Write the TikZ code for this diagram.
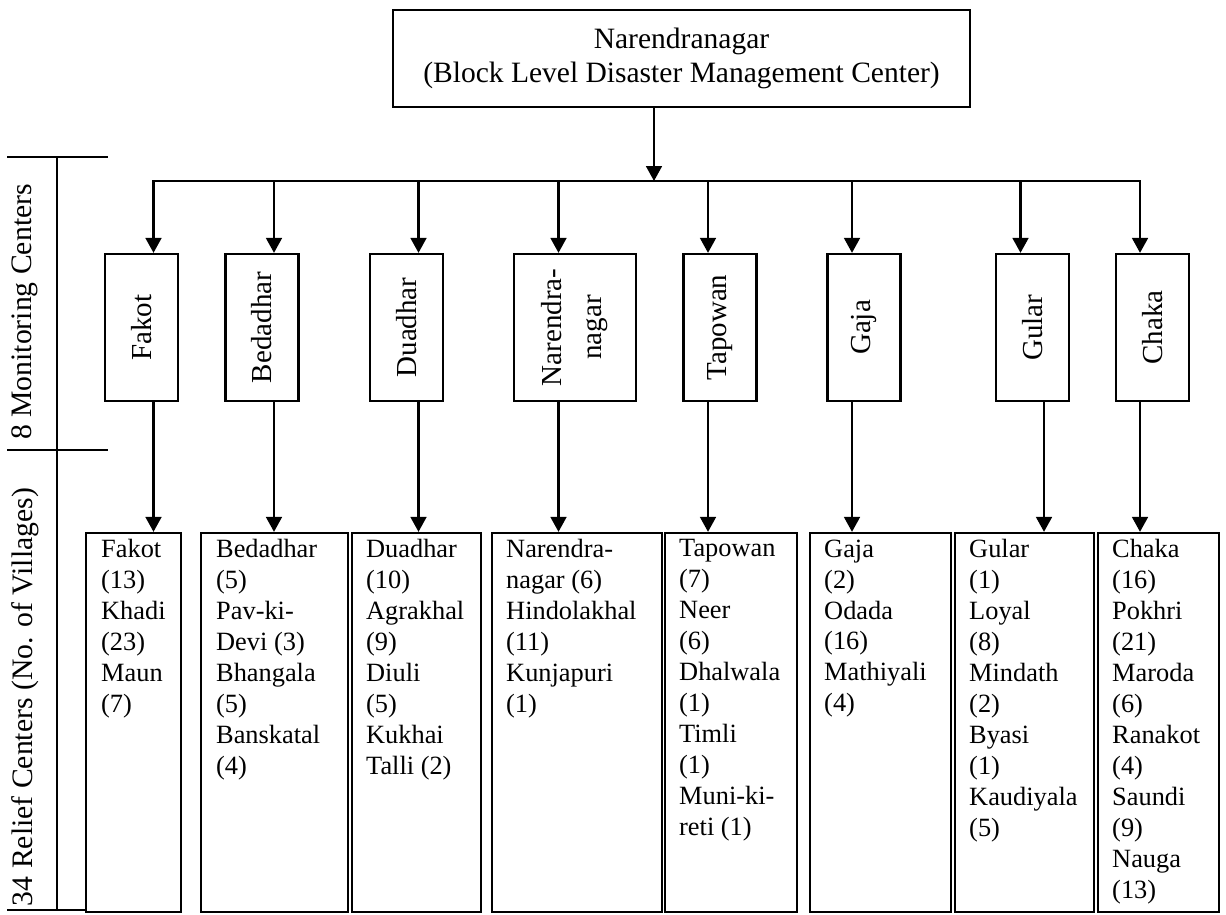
\documentclass[tikz,border=0pt]{standalone}
\usepackage{fontspec}
\setmainfont{Liberation Serif}
\usepackage{tikz}
\usetikzlibrary{arrows.meta,positioning,calc}

\begin{document}
\begin{tikzpicture}[
    block/.style={rectangle, draw, line width=1.3pt, minimum width=11.54cm, minimum height=1.94cm, align=center, font=\fontsize{16.8}{19.3}\selectfont},
    monitor/.style={rectangle, draw, line width=1.3pt, minimum width=1.46cm, minimum height=2.94cm},
    montext/.style={rotate=90, align=center, font=\fontsize{16.5}{22.8}\selectfont},
    village/.style={rectangle, draw, line width=1.3pt, minimum height=7.58cm},
    vtext/.style={anchor=north west, inner sep=0pt, align=left, font=\fontsize{15}{17.6}\selectfont},
    side/.style={rotate=90, font=\fontsize{16.9}{20}\selectfont},
    arrow/.style={-{Triangle[length=8.5pt, width=9pt]}, line width=1.3pt},
    line/.style={line width=1.3pt, line cap=rect}
]
\fill[white] (0,0) rectangle (24.52,18.28);
\useasboundingbox (0,0) rectangle (24.52,18.28);

% Block level center
\node[block] (blc) at (13.63,17.11) {Narendranagar\\(Block Level Disaster Management Center)};

% Distribution line
\coordinate (bus) at (13.08,14.66);
\coordinate (bfak) at (3.07,14.66);
\coordinate (bbed) at (5.48,14.66);
\coordinate (bdua) at (8.37,14.66);
\coordinate (bnar) at (11.17,14.66);
\coordinate (btap) at (14.16,14.66);
\coordinate (bgaj) at (17.04,14.66);
\coordinate (bgul) at (20.41,14.66);
\coordinate (bcha) at (22.80,14.66);
\coordinate (lgul) at (20.88,14.66);
\draw[arrow] (blc.south -| bus) -- (bus);
\draw[line] (bfak) -- (bcha);

% Side brackets
\draw[line] (0.16,15.14) -- (2.14,15.14);
\draw[line] (0.16,9.28) -- (2.14,9.28);
\draw[line] (0.16,0.08) -- (1.72,0.08);
\draw[line] (1.14,15.14) -- (1.14,0.08);
\node[side] (lmon) at (0.5,12.04) {8 Monitoring Centers};
\node[side] (lrel) at (0.5,4.34) {34 Relief Centers (No. of Villages)};

% Monitoring centers
\node[monitor] (mfak) at (2.83,11.73) {};
\node[montext] at (mfak) {Fakot};
\node[monitor] (mbed) at (5.24,11.73) {};
\node[montext] at (mbed) {Bedadhar};
\node[monitor] (mdua) at (8.13,11.73) {};
\node[montext] at (mdua) {Duadhar};
\node[monitor, minimum width=2.43cm] (mnar) at (11.5,11.73) {};
\node[montext] at (mnar) {Narendra-\\nagar};
\node[monitor] (mtap) at (14.4,11.73) {};
\node[montext] at (mtap) {Tapowan};
\node[monitor] (mgaj) at (17.28,11.73) {};
\node[montext] at (mgaj) {Gaja};
\node[monitor] (mgul) at (20.65,11.73) {};
\node[montext] at (mgul) {Gular};
\node[monitor] (mcha) at (23.05,11.73) {};
\node[montext] at (mcha) {Chaka};

\draw[arrow] (bfak) -- (bfak |- mfak.north);
\draw[arrow] (bbed) -- (bbed |- mbed.north);
\draw[arrow] (bdua) -- (bdua |- mdua.north);
\draw[arrow] (bnar) -- (bnar |- mnar.north);
\draw[arrow] (btap) -- (btap |- mtap.north);
\draw[arrow] (bgaj) -- (bgaj |- mgaj.north);
\draw[arrow] (bgul) -- (bgul |- mgul.north);
\draw[arrow] (bcha) -- (bcha |- mcha.north);

% Relief centers
\node[village, minimum width=1.9cm] (vfak) at (2.67,3.83) {};
\node[vtext] at ([shift={(0.32,-0.15)}]vfak.north west) {Fakot\\(13)\\Khadi\\(23)\\Maun\\(7)};
\node[village, minimum width=2.94cm] (vbed) at (5.49,3.83) {};
\node[vtext] at ([shift={(0.32,-0.15)}]vbed.north west) {Bedadhar\\(5)\\Pav-ki-\\Devi (3)\\Bhangala\\(5)\\Banskatal\\(4)};
\node[village, minimum width=2.58cm] (vdua) at (8.33,3.83) {};
\node[vtext] at ([shift={(0.3,-0.15)}]vdua.north west) {Duadhar\\(10)\\Agrakhal\\(9)\\Diuli\\(5)\\Kukhai\\Talli (2)};
\node[village, minimum width=3.4cm] (vnar) at (11.54,3.83) {};
\node[vtext] at ([shift={(0.3,-0.15)}]vnar.north west) {Narendra-\\nagar (6)\\Hindolakhal\\(11)\\Kunjapuri\\(1)};
\node[village, minimum width=2.64cm] (vtap) at (14.62,3.83) {};
\node[vtext] at ([shift={(0.3,-0.15)}]vtap.north west) {Tapowan\\(7)\\Neer\\(6)\\Dhalwala\\(1)\\Timli\\(1)\\Muni-ki-\\reti (1)};
\node[village, minimum width=2.82cm] (vgaj) at (17.61,3.83) {};
\node[vtext] at ([shift={(0.3,-0.15)}]vgaj.north west) {Gaja\\(2)\\Odada\\(16)\\Mathiyali\\(4)};
\node[village, minimum width=2.78cm] (vgul) at (20.49,3.83) {};
\node[vtext] at ([shift={(0.3,-0.15)}]vgul.north west) {Gular\\(1)\\Loyal\\(8)\\Mindath\\(2)\\Byasi\\(1)\\Kaudiyala\\(5)};
\node[village, minimum width=2.42cm] (vcha) at (23.17,3.83) {};
\node[vtext] at ([shift={(0.3,-0.15)}]vcha.north west) {Chaka\\(16)\\Pokhri\\(21)\\Maroda\\(6)\\Ranakot\\(4)\\Saundi\\(9)\\Nauga\\(13)};

\draw[arrow] (bfak |- mfak.south) -- (bfak |- vfak.north);
\draw[arrow] (bbed |- mbed.south) -- (bbed |- vbed.north);
\draw[arrow] (bdua |- mdua.south) -- (bdua |- vdua.north);
\draw[arrow] (bnar |- mnar.south) -- (bnar |- vnar.north);
\draw[arrow] (btap |- mtap.south) -- (btap |- vtap.north);
\draw[arrow] (bgaj |- mgaj.south) -- (bgaj |- vgaj.north);
\draw[arrow] (lgul |- mgul.south) -- (lgul |- vgul.north);
\draw[arrow] (bcha |- mcha.south) -- (bcha |- vcha.north);

\end{tikzpicture}
\end{document}
